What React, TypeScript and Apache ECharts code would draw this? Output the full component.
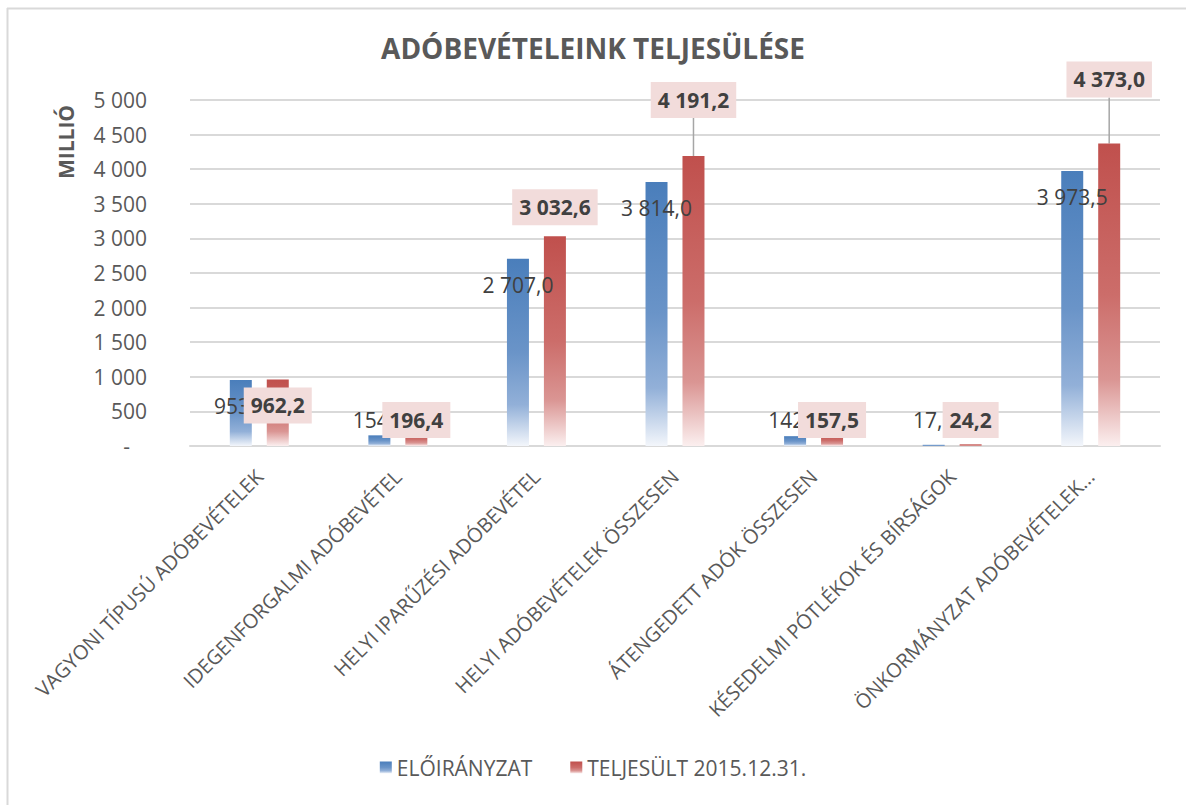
import React, { useEffect, useRef } from "react";
import * as echarts from "echarts";

const categories = [
  "VAGYONI TÍPUSÚ ADÓBEVÉTELEK",
  "IDEGENFORGALMI ADÓBEVÉTEL",
  "HELYI IPARŰZÉSI ADÓBEVÉTEL",
  "HELYI ADÓBEVÉTELEK ÖSSZESEN",
  "ÁTENGEDETT ADÓK ÖSSZESEN",
  "KÉSEDELMI PÓTLÉKOK ÉS BÍRSÁGOK",
  "ÖNKORMÁNYZAT ADÓBEVÉTELEK...",
];
const eloiranyzat = [953.0, 154.0, 2707.0, 3814.0, 142.0, 17.0, 3973.5];
const teljesult = [962.2, 196.4, 3032.6, 4191.2, 157.5, 24.2, 4373.0];
const seriesNames = ["ELŐIRÁNYZAT", "TELJESÜLT 2015.12.31."];
const yTicks = [0, 500, 1000, 1500, 2000, 2500, 3000, 3500, 4000, 4500, 5000];

// label lifts (px above bar top) for the moved labels of the second series
const redLift: Record<number, number> = { 2: 29, 3: 56, 6: 64 };
const redLeader: Record<number, boolean> = { 3: true, 6: true };

const FONT = "'Open Sans', sans-serif";
const GRAY = "#595959";
const TEXT = "#404040";

function fmt(v: number, dec: number) {
  const s = v.toFixed(dec);
  const [i, d] = s.split(".");
  const ii = i.replace(/\B(?=(\d{3})+(?!\d))/g, " ");
  return d !== undefined ? ii + "," + d : ii;
}

function inside(rect: any) {
  const top = rect.y;
  const bottom = rect.y + rect.height;
  return Math.min(top + 26, bottom - 26);
}

export default function App() {
  const ref = useRef<HTMLDivElement>(null);
  useEffect(() => {
    if (!ref.current) return;
    const chart = echarts.init(ref.current, undefined, { renderer: "svg" });
    const blueGrad = new echarts.graphic.LinearGradient(0, 0, 0, 1, [
      { offset: 0, color: "#4a7ebb" },
      { offset: 0.5, color: "#6a94c8" },
      { offset: 0.78, color: "#92b0d8" },
      { offset: 1, color: "#f3f6fb" },
    ]);
    const redGrad = new echarts.graphic.LinearGradient(0, 0, 0, 1, [
      { offset: 0, color: "#c0504d" },
      { offset: 0.5, color: "#cc6d6a" },
      { offset: 0.78, color: "#da9593" },
      { offset: 1, color: "#fbefef" },
    ]);
    chart.setOption({
      animation: false,
      backgroundColor: "#ffffff",
      title: {
        text: "ADÓBEVÉTELEINK TELJESÜLÉSE",
        left: "center",
        top: 29,
        textStyle: { fontFamily: FONT, fontSize: 28, fontWeight: "bold", color: GRAY },
      },
      graphic: [
        {
          type: "line",
          shape: { x1: 7.5, y1: 8, x2: 7.5, y2: 805 },
          style: { stroke: "#d9d9d9", lineWidth: 2 },
          silent: true,
        },
        {
          type: "line",
          shape: { x1: 7, y1: 8.5, x2: 1186, y2: 8.5 },
          style: { stroke: "#d9d9d9", lineWidth: 2 },
          silent: true,
        },
        {
          type: "text",
          x: 66,
          y: 142,
          rotation: Math.PI / 2,
          style: {
            text: "MILLIÓ",
            fontFamily: FONT,
            fontSize: 21,
            fontWeight: "bold",
            fill: GRAY,
            align: "center",
            verticalAlign: "middle",
          },
          silent: true,
        },
      ],
      legend: {
        bottom: 22,
        left: "center",
        itemWidth: 12,
        itemHeight: 12,
        itemGap: 38,
        icon: "rect",
        textStyle: { fontFamily: FONT, fontSize: 21, color: GRAY },
        data: seriesNames,
      },
      grid: { left: 190, right: 26, top: 100, bottom: 359 },
      xAxis: {
        type: "category",
        data: categories,
        axisTick: { show: false },
        axisLine: { lineStyle: { color: "#d9d9d9", width: 2 } },
        axisLabel: {
          rotate: 45,
          interval: 0,
          margin: 27,
          fontFamily: FONT,
          fontSize: 20,
          color: GRAY,
        },
      },
      yAxis: {
        type: "value",
        min: 0,
        max: yTicks[yTicks.length - 1],
        interval: 500,
        axisLine: { show: false },
        axisTick: { show: false },
        splitLine: { lineStyle: { color: "#d9d9d9", width: 2 } },
        axisLabel: {
          margin: 43,
          fontFamily: FONT,
          fontSize: 21,
          color: GRAY,
          formatter: (v: number) => (v === 0 ? "{dash|-}" : fmt(v, 0)),
          rich: { dash: { fontFamily: FONT, fontSize: 21, color: GRAY, padding: [0, 17, 0, 0] } },
        },
      },
      series: [
        {
          name: seriesNames[0],
          type: "bar",
          data: eloiranyzat,
          barWidth: 22,
          barGap: "68%",
          itemStyle: { color: blueGrad },
          label: {
            show: true,
            fontFamily: FONT,
            fontSize: 21,
            color: TEXT,
            formatter: (p: any) => fmt(p.value, 1),
          },
          labelLayout: (p: any) => ({
            x: p.rect.x + p.rect.width / 2,
            y: inside(p.rect),
            align: "center",
            verticalAlign: "middle",
          }),
          z: 2,
        },
        {
          name: seriesNames[1],
          type: "bar",
          data: teljesult.map((v, i) => ({
            value: v,
            labelLine: {
              show: !!redLeader[i],
              lineStyle: { color: "#a6a6a6", width: 1.5 },
            },
          })),
          barWidth: 22,
          itemStyle: { color: redGrad },
          label: {
            show: true,
            fontFamily: FONT,
            fontSize: 21,
            fontWeight: "bold",
            color: TEXT,
            lineHeight: 23,
            backgroundColor: "#f2dcdb",
            padding: [7, 7, 6, 7],
            formatter: (p: any) => fmt(p.value, 1),
          },
          labelLine: { show: false },
          labelLayout: (p: any) => {
            const i = p.dataIndex;
            const y = redLift[i] !== undefined ? p.rect.y - redLift[i] : inside(p.rect);
            return {
              x: p.rect.x + p.rect.width / 2,
              y,
              align: "center",
              verticalAlign: "middle",
            };
          },
          z: 2,
        },
      ],
    });
    return () => chart.dispose();
  }, []);
  return (
    <div
      ref={ref}
      style={{ position: "absolute", left: 0, top: 0, width: 1186, height: 805 }}
    />
  );
}
